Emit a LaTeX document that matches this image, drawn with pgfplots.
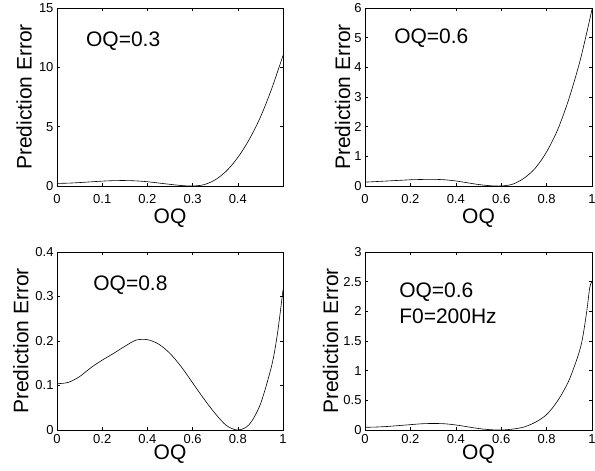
\documentclass[border=0pt]{standalone}
\usepackage{fontspec}
\setmainfont{Liberation Sans}
\usepackage{pgfplots}
\pgfplotsset{compat=1.18}

\pgfplotsset{
  mlab/.style={
    scale only axis, height=178bp, anchor=south west,
    xmin=0, ymin=0,
    axis line style={black, line width=0.6bp},
    tick align=inside, major tick length=3bp,
    tick style={black, line width=0.5bp},
    ticklabel style={font=\fontsize{13bp}{15bp}\selectfont},
    /pgf/number format/assume math mode=true,
    xlabel={OQ}, ylabel={Prediction Error},
    label style={font=\fontsize{21bp}{24bp}\selectfont},
  },
  toprow/.style={
    xticklabel style={anchor=base, yshift=-17.5bp},
    xlabel style={at={(axis description cs:0.5,-0.213)}, anchor=base},
  },
  botrow/.style={
    xticklabel style={anchor=base, yshift=-13.5bp},
    xlabel style={at={(axis description cs:0.5,-0.163)}, anchor=base},
  },
}
\tikzset{
  curve/.style={black, line width=0.6bp, smooth, mark=none},
  note/.style={anchor=base west, inner sep=0pt, font=\fontsize{21bp}{24bp}\selectfont},
}

\begin{document}
\begin{tikzpicture}
\useasboundingbox (0,0) rectangle (595bp,471bp);

% top left
\begin{axis}[mlab, toprow, at={(57bp,285bp)}, width=226bp,
    xmax=0.5, ymax=15, xtick={0,0.1,0.2,0.3,0.4}, ytick={0,5,10,15},
    ylabel style={at={(axis description cs:-0.112,0.5)}, anchor=base}]
\addplot[curve] coordinates {
 (0,0.22) (0.025,0.24) (0.05,0.29) (0.075,0.35) (0.1,0.41) (0.125,0.45)
 (0.15,0.46) (0.175,0.43) (0.2,0.36) (0.225,0.25) (0.25,0.14) (0.275,0.04)
 (0.3,0.0) (0.325,0.11) (0.35,0.52) (0.375,1.27) (0.4,2.4) (0.425,3.9)
 (0.45,5.8) (0.475,8.2) (0.5,11.0)};
\node[note] at (rel axis cs:0.128,0.784) {OQ=0.3};
\end{axis}

% top right
\begin{axis}[mlab, toprow, at={(365bp,285bp)}, width=227bp,
    xmax=1, ymax=6, xtick={0,0.2,0.4,0.6,0.8,1}, ytick={0,1,2,3,4,5,6},
    ylabel style={at={(axis description cs:-0.066,0.5)}, anchor=base}]
\addplot[curve] coordinates {
 (0,0.13) (0.05,0.15) (0.1,0.17) (0.15,0.19) (0.2,0.21) (0.25,0.22)
 (0.3,0.225) (0.35,0.21) (0.4,0.17) (0.45,0.11) (0.5,0.05) (0.55,0.01)
 (0.6,0.0) (0.65,0.06) (0.7,0.26) (0.75,0.6) (0.8,1.15) (0.85,1.92)
 (0.9,2.98) (0.95,4.3) (1.0,5.95)};
\node[note] at (rel axis cs:0.128,0.80) {OQ=0.6};
\end{axis}

% bottom left
\begin{axis}[mlab, botrow, at={(57bp,41bp)}, width=226bp,
    xmax=1, ymax=0.4, xtick={0,0.2,0.4,0.6,0.8,1}, ytick={0,0.1,0.2,0.3,0.4},
    ylabel style={at={(axis description cs:-0.127,0.5)}, anchor=base}]
\addplot[curve] coordinates {
 (0,0.104) (0.05,0.107) (0.1,0.12) (0.15,0.14) (0.2,0.157) (0.25,0.172)
 (0.3,0.188) (0.35,0.202) (0.4,0.203) (0.45,0.193) (0.5,0.172) (0.55,0.142)
 (0.6,0.106) (0.65,0.07) (0.7,0.037) (0.75,0.01) (0.8,0.0) (0.85,0.012)
 (0.9,0.058) (0.95,0.145) (0.975,0.215) (1.0,0.315)};
\node[note] at (rel axis cs:0.16,0.782) {OQ=0.8};
\end{axis}

% bottom right
\begin{axis}[mlab, botrow, at={(365bp,41bp)}, width=227bp,
    xmax=1, ymax=3, xtick={0,0.2,0.4,0.6,0.8,1}, ytick={0,0.5,1,1.5,2,2.5,3},
    ylabel style={at={(axis description cs:-0.118,0.5)}, anchor=base}]
\addplot[curve] coordinates {
 (0,0.045) (0.05,0.05) (0.1,0.06) (0.15,0.075) (0.2,0.09) (0.25,0.105)
 (0.3,0.11) (0.35,0.105) (0.4,0.085) (0.45,0.055) (0.5,0.025) (0.55,0.006)
 (0.6,0.0) (0.65,0.015) (0.7,0.05) (0.75,0.13) (0.8,0.26) (0.85,0.5)
 (0.9,0.85) (0.95,1.4) (0.975,1.95) (0.99,2.4) (1.0,2.5)};
\node[note] at (rel axis cs:0.15,0.744) {OQ=0.6};
\node[note] at (rel axis cs:0.15,0.60) {F0=200Hz};
\end{axis}
\end{tikzpicture}
\end{document}
